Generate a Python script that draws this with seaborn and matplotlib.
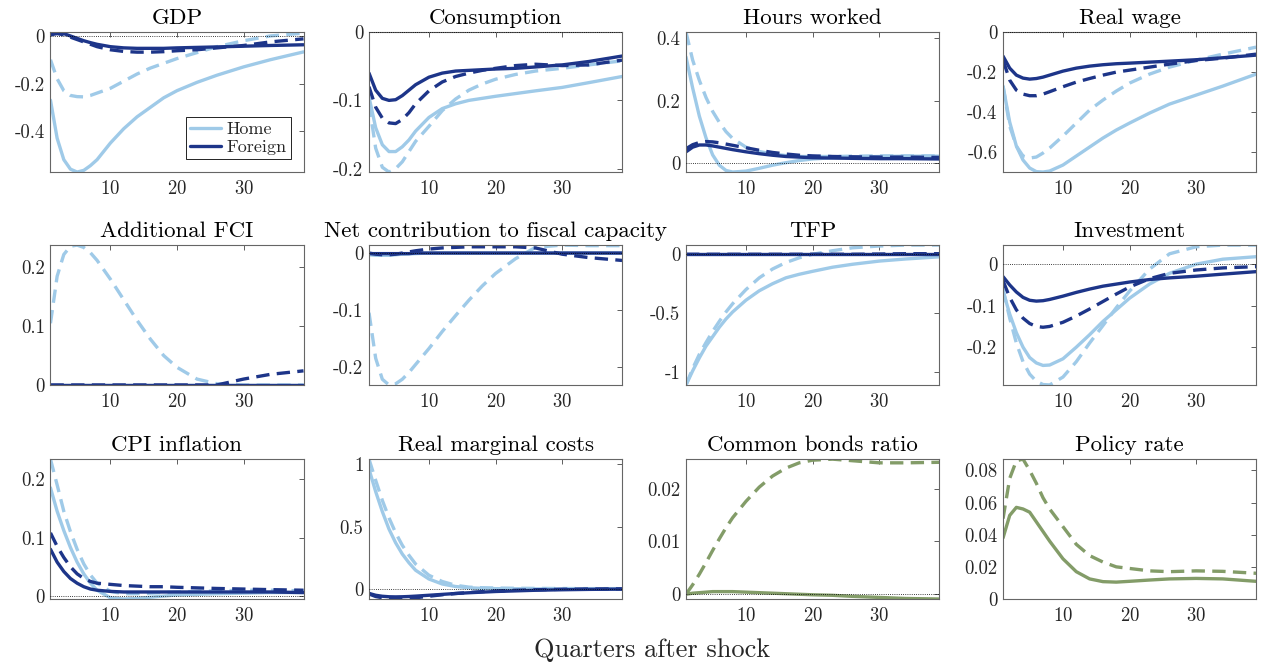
import pandas as pd
import matplotlib.pyplot as plt
import seaborn as sns
from matplotlib.ticker import FuncFormatter
from matplotlib.lines import Line2D

quarters = [1, 2, 3, 4, 5, 6, 7, 8, 10, 12, 14, 16, 18, 20, 23, 26, 30, 34, 39]

#GDP
gdp_home = [-0.27, -0.43, -0.52, -0.56, -0.572, -0.565, -0.545, -0.52, -0.45, -0.39, -0.34, -0.30, -0.26, -0.23, -0.195, -0.165, -0.13, -0.10, -0.067]
gdp_home_alt = [-0.10, -0.18, -0.23, -0.25, -0.255, -0.256, -0.25, -0.24, -0.22, -0.19, -0.16, -0.135, -0.115, -0.095, -0.07, -0.045, -0.02, 0.0, 0.012]
gdp_for = [0.005, 0.016, 0.01, 0.0, -0.01, -0.02, -0.028, -0.035, -0.045, -0.05, -0.052, -0.052, -0.052, -0.05, -0.048, -0.046, -0.043, -0.04, -0.037]
gdp_for_alt = [0.005, 0.01, 0.005, -0.005, -0.015, -0.025, -0.035, -0.045, -0.058, -0.065, -0.068, -0.068, -0.066, -0.062, -0.058, -0.05, -0.04, -0.025, -0.012]

#Consumption
cons_home = [-0.095, -0.14, -0.165, -0.175, -0.175, -0.168, -0.158, -0.145, -0.125, -0.112, -0.105, -0.1, -0.097, -0.094, -0.09, -0.086, -0.081, -0.074, -0.065]
cons_home_alt = [-0.105, -0.17, -0.198, -0.205, -0.2, -0.19, -0.175, -0.16, -0.138, -0.115, -0.098, -0.085, -0.076, -0.069, -0.062, -0.057, -0.053, -0.048, -0.042]
cons_for = [-0.06, -0.085, -0.097, -0.1, -0.099, -0.093, -0.085, -0.077, -0.066, -0.06, -0.057, -0.056, -0.055, -0.054, -0.053, -0.051, -0.048, -0.043, -0.035]
cons_for_alt = [-0.08, -0.11, -0.126, -0.133, -0.134, -0.128, -0.118, -0.105, -0.086, -0.073, -0.065, -0.06, -0.056, -0.053, -0.049, -0.047, -0.049, -0.048, -0.041]

#Hours worked
hours_home = [0.34, 0.24, 0.15, 0.08, 0.025, -0.008, -0.025, -0.03, -0.027, -0.018, -0.008, 0.0, 0.007, 0.012, 0.016, 0.018, 0.02, 0.021, 0.021]
hours_home_alt = [0.42, 0.33, 0.265, 0.21, 0.165, 0.13, 0.1, 0.078, 0.05, 0.036, 0.028, 0.023, 0.02, 0.02, 0.02, 0.021, 0.022, 0.022, 0.022]
hours_for = [0.035, 0.05, 0.057, 0.057, 0.054, 0.05, 0.046, 0.042, 0.035, 0.029, 0.024, 0.02, 0.018, 0.016, 0.015, 0.014, 0.013, 0.013, 0.012]
hours_for_alt = [0.045, 0.058, 0.065, 0.068, 0.067, 0.064, 0.06, 0.056, 0.048, 0.04, 0.033, 0.028, 0.024, 0.022, 0.02, 0.019, 0.018, 0.018, 0.017]

#Real wage
wage_home = [-0.27, -0.45, -0.57, -0.64, -0.68, -0.698, -0.70, -0.695, -0.665, -0.62, -0.575, -0.53, -0.49, -0.455, -0.405, -0.36, -0.315, -0.27, -0.21]
wage_home_alt = [-0.27, -0.47, -0.57, -0.62, -0.63, -0.625, -0.605, -0.58, -0.52, -0.455, -0.39, -0.34, -0.295, -0.255, -0.21, -0.175, -0.14, -0.11, -0.075]
wage_for = [-0.12, -0.18, -0.215, -0.23, -0.235, -0.232, -0.225, -0.215, -0.195, -0.18, -0.17, -0.163, -0.158, -0.155, -0.15, -0.145, -0.138, -0.128, -0.115]
wage_for_alt = [-0.14, -0.24, -0.29, -0.31, -0.318, -0.318, -0.31, -0.298, -0.273, -0.25, -0.232, -0.215, -0.2, -0.19, -0.175, -0.16, -0.142, -0.13, -0.11]

#Additional FCI
fci_home = [0.0] * 19
fci_home_alt = [0.105, 0.185, 0.222, 0.236, 0.238, 0.234, 0.225, 0.212, 0.18, 0.145, 0.11, 0.078, 0.05, 0.03, 0.01, 0.002, 0.0, 0.0, 0.0]
fci_for = [0.0] * 19
fci_for_alt = [0.0, 0.0, 0.0, 0.0, 0.0, 0.0, 0.0, 0.0, 0.0, 0.0, 0.0, 0.0, 0.0, 0.0, 0.0, 0.0, 0.01, 0.018, 0.024]

#Net contribution to fiscal capacity
net_home = [-0.003, -0.004, -0.004, -0.004, -0.003, -0.002, -0.0015, -0.001, 0.0, 0.0, 0.0, 0.0, 0.0, 0.0, 0.0, 0.0, 0.0, 0.0, 0.0]
net_home_alt = [-0.105, -0.185, -0.222, -0.232, -0.23, -0.222, -0.21, -0.196, -0.168, -0.138, -0.11, -0.083, -0.058, -0.036, -0.01, 0.01, 0.014, 0.013, 0.013]
net_for = [-0.001, -0.001, -0.001, -0.001, -0.001, -0.001, -0.001, 0.0, 0.0, 0.0, 0.0, 0.0, 0.0, 0.0, 0.0, 0.0, 0.0, 0.0, 0.0]
net_for_alt = [0.0, -0.002, -0.003, -0.003, -0.002, 0.0, 0.002, 0.004, 0.007, 0.009, 0.01, 0.011, 0.011, 0.011, 0.011, 0.009, -0.002, -0.008, -0.013]

#TFP
tfp_home = [-1.11, -0.99, -0.88, -0.78, -0.70, -0.62, -0.55, -0.49, -0.39, -0.31, -0.25, -0.20, -0.17, -0.145, -0.11, -0.085, -0.058, -0.04, -0.022]
tfp_home_alt = [-1.11, -0.97, -0.85, -0.75, -0.655, -0.57, -0.49, -0.42, -0.30, -0.20, -0.125, -0.07, -0.03, 0.0, 0.03, 0.055, 0.07, 0.078, 0.078]
tfp_for = [0.0] * 19
tfp_for_alt = [0.0, 0.0, 0.0, 0.0, 0.0, 0.0, 0.0, 0.0, 0.0, 0.0, 0.0, 0.0, 0.0, 0.0, 0.0, 0.0, 0.002, 0.005, 0.005]

#Investment
inv_home = [-0.065, -0.12, -0.165, -0.2, -0.225, -0.238, -0.244, -0.243, -0.228, -0.2, -0.17, -0.138, -0.11, -0.082, -0.048, -0.022, 0.0, 0.012, 0.018]
inv_home_alt = [-0.06, -0.13, -0.19, -0.235, -0.265, -0.282, -0.29, -0.291, -0.272, -0.235, -0.19, -0.148, -0.105, -0.065, -0.012, 0.025, 0.042, 0.046, 0.046]
inv_for = [-0.03, -0.05, -0.067, -0.08, -0.087, -0.089, -0.088, -0.085, -0.077, -0.068, -0.06, -0.053, -0.048, -0.043, -0.037, -0.033, -0.029, -0.024, -0.018]
inv_for_alt = [-0.04, -0.08, -0.11, -0.13, -0.143, -0.15, -0.152, -0.15, -0.14, -0.125, -0.108, -0.09, -0.072, -0.055, -0.035, -0.022, -0.014, -0.009, -0.006]

#CPI inflation
cpi_home = [0.185, 0.145, 0.112, 0.083, 0.058, 0.038, 0.022, 0.01, -0.003, -0.005, -0.004, -0.002, 0.0, 0.002, 0.003, 0.004, 0.005, 0.006, 0.006]
cpi_home_alt = [0.234, 0.19, 0.145, 0.11, 0.08, 0.055, 0.036, 0.022, 0.008, 0.004, 0.004, 0.005, 0.006, 0.007, 0.008, 0.009, 0.01, 0.01, 0.009]
cpi_for = [0.08, 0.058, 0.042, 0.03, 0.022, 0.016, 0.012, 0.01, 0.008, 0.007, 0.007, 0.007, 0.007, 0.007, 0.007, 0.007, 0.007, 0.007, 0.006]
cpi_for_alt = [0.108, 0.085, 0.066, 0.05, 0.038, 0.03, 0.025, 0.022, 0.02, 0.018, 0.017, 0.016, 0.016, 0.015, 0.014, 0.013, 0.012, 0.011, 0.01]

#Real marginal costs
rmc_home = [0.96, 0.78, 0.62, 0.48, 0.37, 0.28, 0.21, 0.15, 0.08, 0.04, 0.02, 0.01, 0.005, 0.003, 0.002, 0.001, 0.0, 0.0, 0.0]
rmc_home_alt = [1.04, 0.87, 0.71, 0.57, 0.45, 0.35, 0.27, 0.2, 0.11, 0.06, 0.03, 0.015, 0.01, 0.008, 0.006, 0.005, 0.004, 0.003, 0.003]
rmc_for = [-0.035, -0.05, -0.058, -0.062, -0.063, -0.062, -0.06, -0.057, -0.05, -0.043, -0.036, -0.03, -0.025, -0.02, -0.015, -0.01, -0.006, -0.003, -0.001]
rmc_for_alt = [-0.04, -0.06, -0.07, -0.077, -0.08, -0.079, -0.076, -0.07, -0.058, -0.046, -0.036, -0.028, -0.021, -0.016, -0.01, -0.006, -0.002, 0.0, 0.001]

#Common bonds ratio
bonds = [0.0, 0.0002, 0.0003, 0.0004, 0.0005, 0.0005, 0.0005, 0.0005, 0.0004, 0.0003, 0.0002, 0.0001, 0.0, -0.0001, -0.0002, -0.0004, -0.0006, -0.0008, -0.0009]
bonds_alt = [0.0, 0.0018, 0.0038, 0.006, 0.0083, 0.0105, 0.0126, 0.0145, 0.0176, 0.0203, 0.0224, 0.0239, 0.0249, 0.0254, 0.0256, 0.0253, 0.0249, 0.0249, 0.025]

#Policy rate
rate = [0.038, 0.052, 0.057, 0.056, 0.054, 0.048, 0.042, 0.036, 0.025, 0.017, 0.0125, 0.0108, 0.0105, 0.011, 0.0118, 0.0125, 0.0128, 0.0125, 0.011]
rate_alt = [0.05, 0.075, 0.086, 0.087, 0.08, 0.072, 0.063, 0.056, 0.045, 0.034, 0.027, 0.023, 0.02, 0.019, 0.0175, 0.017, 0.0175, 0.0172, 0.016]

titles = ['GDP', 'Consumption', 'Hours worked', 'Real wage',
          'Additional FCI', 'Net contribution to fiscal capacity', 'TFP', 'Investment',
          'CPI inflation', 'Real marginal costs', 'Common bonds ratio', 'Policy rate']
yticks = [[-0.4, -0.2, 0], [-0.2, -0.1, 0], [0, 0.2, 0.4], [-0.6, -0.4, -0.2, 0],
          [0, 0.1, 0.2], [-0.2, -0.1, 0], [-1, -0.5, 0], [-0.2, -0.1, 0],
          [0, 0.1, 0.2], [0, 0.5, 1], [0, 0.01, 0.02], [0, 0.02, 0.04, 0.06, 0.08]]
xticks = [10, 20, 30]

blue_series = [(gdp_home, gdp_home_alt, gdp_for, gdp_for_alt),
               (cons_home, cons_home_alt, cons_for, cons_for_alt),
               (hours_home, hours_home_alt, hours_for, hours_for_alt),
               (wage_home, wage_home_alt, wage_for, wage_for_alt),
               (fci_home, fci_home_alt, fci_for, fci_for_alt),
               (net_home, net_home_alt, net_for, net_for_alt),
               (tfp_home, tfp_home_alt, tfp_for, tfp_for_alt),
               (inv_home, inv_home_alt, inv_for, inv_for_alt),
               (cpi_home, cpi_home_alt, cpi_for, cpi_for_alt),
               (rmc_home, rmc_home_alt, rmc_for, rmc_for_alt)]
green_series = [(bonds, bonds_alt), (rate, rate_alt)]

#building one long table
rows = []
for i, (h, ha, f, fa) in enumerate(blue_series):
    for country, scen, vals in [('Home', 'base', h), ('Home', 'alt', ha),
                                ('Foreign', 'base', f), ('Foreign', 'alt', fa)]:
        for q, v in zip(quarters, vals):
            rows.append((titles[i], country, scen, q, v))
for j, (b, ba) in enumerate(green_series):
    for scen, vals in [('base', b), ('alt', ba)]:
        for q, v in zip(quarters, vals):
            rows.append((titles[10 + j], 'Union', scen, q, v))
irf = pd.DataFrame(rows, columns=['Panel', 'Country', 'Scenario', 'Quarter', 'Value'])

#setting parameters
sns.set_theme(style='white')
plt.rcParams['font.family'] = ['cmr10', 'DejaVu Serif']
plt.rcParams['axes.unicode_minus'] = False
plt.rcParams['axes.formatter.use_mathtext'] = True

light = '#9fcae8'
dark = '#1d3589'
green = '#839c68'
palette = {'Home': light, 'Foreign': dark, 'Union': green}
dashes = {'base': '', 'alt': (4, 2.2)}
text_col = '#262626'

fig = plt.figure(figsize=(12.62, 6.66), dpi=100)
lefts = [0.0400, 0.2924, 0.5436, 0.7948]
bottoms = [0.7417, 0.4220, 0.1006]
w, h = 0.2005, 0.2100

fmt = FuncFormatter(lambda v, p: '%g' % round(v, 6))

for k, title in enumerate(titles):
    ax = fig.add_axes([lefts[k % 4], bottoms[k // 4], w, h])
    sub = irf[irf['Panel'] == title]
    hue_order = ['Union'] if k >= 10 else ['Home', 'Foreign']
    sns.lineplot(data=sub, x='Quarter', y='Value', hue='Country', style='Scenario',
                 hue_order=hue_order, style_order=['base', 'alt'], palette=palette,
                 dashes=dashes, linewidth=2.4, errorbar=None, legend=False, ax=ax)
    ax.axhline(0, color='black', ls=(0, (1, 1.6)), lw=0.6, zorder=5)
    lo, hi = min(sub['Value'].min(), 0), max(sub['Value'].max(), 0)
    ax.set_xlim(1, 39)
    ax.set_ylim(lo, hi)
    ax.set_xticks(xticks)
    ax.set_yticks(yticks[k])
    ax.yaxis.set_major_formatter(fmt)
    ax.set_xlabel('')
    ax.set_ylabel('')
    ax.set_title(title, fontsize=16.5, color='black', pad=6)
    ax.tick_params(direction='in', top=True, right=True, length=3.5, width=0.6,
                   color='#444444', labelcolor=text_col, labelsize=13.5)
    ax.tick_params(axis='x', pad=6)
    ax.tick_params(axis='y', pad=4)
    for s in ax.spines.values():
        s.set_color('#666666')
        s.set_linewidth(0.8)
    if k == 0:
        handles = [Line2D([], [], color=light, lw=2.4), Line2D([], [], color=dark, lw=2.4)]
        leg = ax.legend(handles, ['Home', 'Foreign'], loc='lower right', fontsize=13,
                        frameon=True, fancybox=False, framealpha=1, edgecolor='black',
                        borderaxespad=0.7, handlelength=1.7, handletextpad=0.3,
                        labelspacing=0.1, borderpad=0.25)
        leg.get_frame().set_linewidth(0.6)

fig.text(0.517, 0.024, 'Quarters after shock', ha='center', va='center', fontsize=19, color=text_col)
fig.savefig('out.png', dpi=100)
